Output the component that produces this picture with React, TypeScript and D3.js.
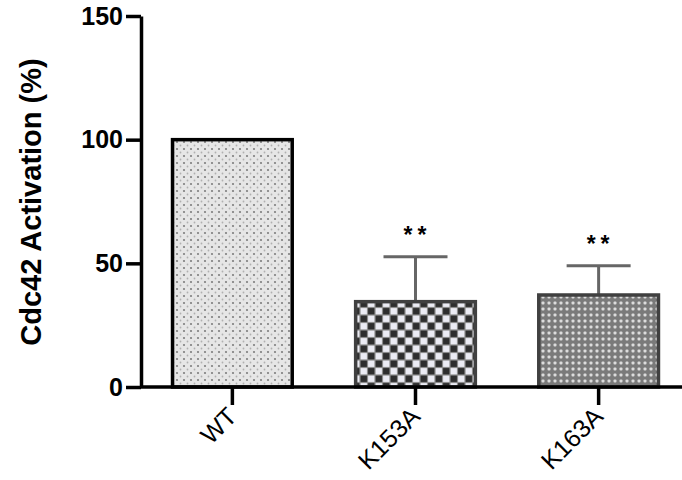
import React, { useEffect, useRef } from 'react';
import * as d3 from 'd3';

const groups = ['WT', 'K153A', 'K163A'];
const means = [100, 34.5, 37.2];
const errUp = [0, 18.2, 11.8];
const marks = ['', '**', '**'];
const yTicks = [0, 50, 100, 150];

const W = 682;
const H = 480;

export default function App() {
  const ref = useRef<SVGSVGElement>(null);

  useEffect(() => {
    const svg = d3.select(ref.current);
    svg.selectAll('*').remove();

    const x = d3.scaleBand().domain(groups).range([141, 690]).paddingInner(0.33).paddingOuter(0.164);
    const y = d3.scaleLinear().domain([0, 150]).range([387, 16]);
    const font = 'Liberation Sans, Arial, sans-serif';

    // patterns
    const defs = svg.append('defs');
    let p = defs.append('pattern').attr('id', 'dots').attr('patternUnits', 'userSpaceOnUse')
      .attr('width', 7).attr('height', 7);
    p.append('rect').attr('width', 7).attr('height', 7).attr('fill', '#e6e6e6');
    p.append('circle').attr('cx', 2).attr('cy', 2).attr('r', 1.1).attr('fill', '#7e7e7e');
    p.append('circle').attr('cx', 5.5).attr('cy', 5.5).attr('r', 0.9).attr('fill', '#b0b0b0');

    p = defs.append('pattern').attr('id', 'checker').attr('patternUnits', 'userSpaceOnUse')
      .attr('width', 15).attr('height', 15);
    p.append('rect').attr('width', 15).attr('height', 15).attr('fill', '#8c8c8c');
    p.append('rect').attr('x', 0.6).attr('y', 0.6).attr('width', 6.3).attr('height', 6.3).attr('fill', '#2e2e2e');
    p.append('rect').attr('x', 8.1).attr('y', 8.1).attr('width', 6.3).attr('height', 6.3).attr('fill', '#2e2e2e');
    p.append('rect').attr('x', 8.1).attr('y', 0.6).attr('width', 6.3).attr('height', 6.3).attr('fill', '#ececf4');
    p.append('rect').attr('x', 0.6).attr('y', 8.1).attr('width', 6.3).attr('height', 6.3).attr('fill', '#ececf4');

    p = defs.append('pattern').attr('id', 'grid').attr('patternUnits', 'userSpaceOnUse')
      .attr('width', 6).attr('height', 6);
    p.append('rect').attr('width', 6).attr('height', 6).attr('fill', '#7a7a7a');
    p.append('rect').attr('x', 1.5).attr('y', 1.5).attr('width', 3).attr('height', 3).attr('rx', 1)
      .attr('fill', '#dcdcdc');

    const fills = ['url(#dots)', 'url(#checker)', 'url(#grid)'];
    const strokes = ['#000', '#404040', '#404040'];

    // error bars
    groups.forEach((g, i) => {
      if (!errUp[i]) return;
      const cx = x(g)! + x.bandwidth() / 2;
      svg.append('line').attr('x1', cx).attr('x2', cx)
        .attr('y1', y(means[i])).attr('y2', y(means[i] + errUp[i]))
        .attr('stroke', '#666').attr('stroke-width', 3);
      svg.append('line').attr('x1', cx - 32).attr('x2', cx + 32)
        .attr('y1', y(means[i] + errUp[i])).attr('y2', y(means[i] + errUp[i]))
        .attr('stroke', '#666').attr('stroke-width', 3);
    });

    // bars
    svg.selectAll('rect.bar').data(groups).enter().append('rect')
      .attr('class', 'bar')
      .attr('x', d => x(d)! + 1.5)
      .attr('width', x.bandwidth() - 3)
      .attr('y', (d, i) => y(means[i]))
      .attr('height', (d, i) => y(0) - y(means[i]))
      .attr('fill', (d, i) => fills[i])
      .attr('stroke', (d, i) => strokes[i])
      .attr('stroke-width', 3.5);

    // significance marks
    svg.selectAll('text.mark').data(groups).enter().append('text')
      .attr('class', 'mark')
      .attr('x', d => x(d)! + x.bandwidth() / 2 + 2)
      .attr('y', (d, i) => y(means[i] + errUp[i]) - 14)
      .attr('text-anchor', 'middle')
      .attr('font-family', font).attr('font-weight', 'bold').attr('font-size', 23)
      .attr('letter-spacing', 5)
      .text((d, i) => marks[i]);

    // y axis
    const ya = svg.append('g').attr('transform', 'translate(141,0)')
      .call(d3.axisLeft(y).tickValues(yTicks).tickSize(15).tickSizeOuter(0).tickPadding(3));
    ya.select('.domain').attr('stroke', '#000').attr('stroke-width', 3.5);
    ya.selectAll('.tick line').attr('stroke', '#000').attr('stroke-width', 3.5);
    ya.selectAll('.tick text').attr('font-family', font).attr('font-weight', 'bold')
      .attr('font-size', 25).attr('fill', '#000');

    // x axis
    const xa = svg.append('g').attr('transform', 'translate(0,387)')
      .call(d3.axisBottom(x).tickSize(18).tickSizeOuter(0).tickPadding(0));
    xa.select('.domain').attr('d', `M141,0H${W}`).attr('stroke', '#000').attr('stroke-width', 3.5);
    xa.selectAll('.tick line').attr('stroke', '#000').attr('stroke-width', 3.5);
    xa.selectAll('.tick text')
      .attr('font-family', font).attr('font-size', 25).attr('fill', '#000')
      .attr('text-anchor', 'end').attr('dy', 0)
      .attr('transform', 'translate(6,31) rotate(-45)')
      .attr('y', 0).attr('x', 0);

    // y title
    svg.append('text')
      .attr('transform', `translate(41,202) rotate(-90)`)
      .attr('text-anchor', 'middle')
      .attr('font-family', font).attr('font-weight', 'bold').attr('font-size', 29)
      .text('Cdc42 Activation (%)');
  }, []);

  return (
    <div>
      <style>{'body{margin:0}'}</style>
      <svg ref={ref} width={W} height={H} style={{ display: 'block', background: '#fff' }} />
    </div>
  );
}
